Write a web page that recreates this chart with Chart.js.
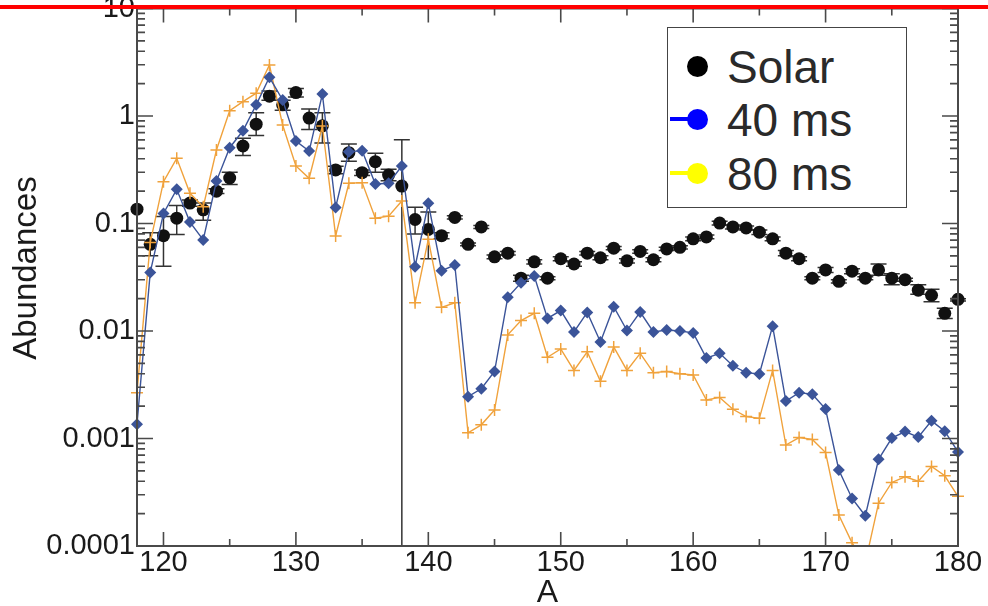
<!DOCTYPE html>
<html>
<head>
<meta charset="utf-8">
<script src="https://cdn.jsdelivr.net/npm/chart.js@4.4.1/dist/chart.umd.min.js"></script>
<style>
html,body{margin:0;padding:0;background:#ffffff;}
#wrap{position:relative;width:988px;height:606px;overflow:hidden;background:#fff;}
#chart{position:absolute;left:0;top:0;}
#redline{position:absolute;left:0;top:5px;width:988px;height:4px;background:#ff0000;}
#legend{position:absolute;left:667px;top:27px;width:238px;height:179px;border:1.5px solid #444;background:#fff;font-family:"Liberation Sans",Arial,sans-serif;color:#2a2a2a;}
.row{position:absolute;left:0;width:238px;height:50px;}
.dot{position:absolute;width:21px;height:21px;border-radius:50%;left:19px;top:14px;}
.ln{position:absolute;left:2px;width:26px;height:4px;top:22px;}
.lab{position:absolute;left:59px;top:0;font-size:46px;line-height:50px;white-space:nowrap;}
</style>
</head>
<body>
<div id="wrap">
<canvas id="chart" width="988" height="606"></canvas>
<div id="legend">
  <div class="row" style="top:14px"><div class="dot" style="background:#000"></div><div class="lab">Solar</div></div>
  <div class="row" style="top:67px"><div class="ln" style="background:#0000ff"></div><div class="dot" style="background:#0000ff"></div><div class="lab">40 ms</div></div>
  <div class="row" style="top:121px"><div class="ln" style="background:#ffff00"></div><div class="dot" style="background:#ffff00"></div><div class="lab">80 ms</div></div>
</div>
<div id="redline"></div>
</div>
<script>
// ---- data ----
const massNumbers = [118,119,120,121,122,123,124,125,126,127,128,129,130,131,132,133,134,135,136,137,138,139,140,141,142,143,144,145,146,147,148,149,150,151,152,153,154,155,156,157,158,159,160,161,162,163,164,165,166,167,168,169,170,171,172,173,174,175,176,177,178,179,180];

const solar = [0.136,0.064,0.077,0.112,0.155,0.134,0.200,0.265,0.526,0.84,1.53,1.27,1.65,0.957,0.81,0.315,0.456,0.297,0.376,0.282,0.223,0.109,0.088,0.077,0.114,0.064,0.093,0.049,0.053,0.031,0.044,0.031,0.047,0.042,0.053,0.048,0.059,0.045,0.055,0.046,0.058,0.060,0.072,0.075,0.101,0.093,0.091,0.083,0.072,0.053,0.047,0.031,0.037,0.029,0.036,0.031,0.037,0.031,0.030,0.024,0.0215,0.0146,0.0197];

const solarLow = [null,0.050,0.040,0.079,0.145,0.107,0.19,0.23,0.43,0.66,1.40,1.13,1.50,0.75,0.56,0.29,0.38,0.28,0.30,0.25,0.00001,0.080,0.047,0.072,0.110,0.062,0.090,0.047,0.051,0.029,0.042,0.030,0.045,0.040,0.051,0.046,0.057,0.043,0.053,0.044,0.056,0.058,0.069,0.072,0.097,0.089,0.087,0.079,0.069,0.050,0.045,0.030,0.035,0.028,0.034,0.030,0.033,0.027,0.029,0.022,0.0187,0.0131,0.019];

const solarHigh = [null,0.082,0.116,0.147,0.165,0.155,0.21,0.30,0.62,1.07,1.71,1.40,1.80,1.16,1.07,0.34,0.55,0.315,0.45,0.32,0.60,0.142,0.128,0.082,0.118,0.066,0.096,0.051,0.055,0.033,0.046,0.032,0.049,0.044,0.055,0.050,0.061,0.047,0.057,0.048,0.060,0.062,0.075,0.078,0.105,0.097,0.095,0.087,0.075,0.056,0.049,0.032,0.039,0.030,0.038,0.032,0.042,0.034,0.031,0.027,0.0244,0.0163,0.020];

const ms40 = [0.00136,0.0351,0.124,0.208,0.103,0.0703,0.248,0.507,0.729,1.27,2.29,1.41,0.585,0.472,1.60,0.141,0.466,0.475,0.233,0.237,0.343,0.0396,0.154,0.0364,0.0411,0.00245,0.0029,0.0042,0.0206,0.0281,0.0325,0.0131,0.0155,0.0098,0.0149,0.0079,0.0168,0.0101,0.0150,0.0098,0.0102,0.0100,0.0096,0.0056,0.0062,0.00475,0.0041,0.00398,0.0111,0.00223,0.00267,0.00258,0.00188,0.00051,0.000277,0.000191,0.00064,0.00101,0.00116,0.00103,0.00146,0.00117,0.00075];

const ms80 = [0.00267,0.0664,0.245,0.404,0.191,0.143,0.483,1.12,1.36,1.63,2.98,0.824,0.343,0.263,0.807,0.0766,0.237,0.240,0.112,0.117,0.162,0.0183,0.0713,0.0166,0.0183,0.00113,0.00134,0.00184,0.0092,0.0125,0.0146,0.0057,0.0068,0.0043,0.0064,0.0034,0.0071,0.0043,0.0062,0.0041,0.0042,0.0040,0.0039,0.00228,0.00241,0.00187,0.0016,0.00154,0.0043,0.00087,0.00102,0.00098,0.00074,0.000194,0.000107,0.00007,0.00025,0.00039,0.00044,0.00040,0.00055,0.00045,0.00029];

const xTickValues = [120,130,140,150,160,170,180];
const xMinorTicks = [125,135,145,155,165,175];
const yTickValues = [0.0001,0.001,0.01,0.1,1,10];
const yTickLabels = ["0.0001","0.001","0.01","0.1","1","10"];

// ---- chart ----
const FONT = '"Liberation Sans", Arial, sans-serif';
const toXY = (vals) => massNumbers.map((a, i) => ({x: a, y: vals[i]}));

const errorBars = {
  id: 'errorBars',
  beforeDatasetsDraw(chart) {
    const {ctx, chartArea: a, scales: {x, y}} = chart;
    ctx.save();
    ctx.beginPath();
    ctx.rect(a.left - 12, a.top, a.right - a.left + 24, a.bottom - a.top);
    ctx.clip();
    ctx.strokeStyle = '#333';
    ctx.lineWidth = 1.5;
    massNumbers.forEach((m, i) => {
      if (solarLow[i] == null) return;
      const px = x.getPixelForValue(m);
      const pLo = y.getPixelForValue(solarLow[i]);
      const pHi = y.getPixelForValue(solarHigh[i]);
      ctx.beginPath();
      ctx.moveTo(px, pLo); ctx.lineTo(px, pHi);
      ctx.moveTo(px - 8, pLo); ctx.lineTo(px + 8, pLo);
      ctx.moveTo(px - 8, pHi); ctx.lineTo(px + 8, pHi);
      ctx.stroke();
    });
    ctx.restore();
  }
};

const frameTicks = {
  id: 'frameTicks',
  afterDraw(chart) {
    const {ctx, chartArea: a, scales: {x, y}} = chart;
    ctx.save();
    ctx.strokeStyle = '#4a4a4a';
    ctx.lineWidth = 2;
    ctx.strokeRect(a.left, a.top, a.right - a.left, a.bottom - a.top);
    ctx.lineWidth = 1.6;
    ctx.beginPath();
    const xt = (v, len) => {
      const p = x.getPixelForValue(v);
      ctx.moveTo(p, a.bottom); ctx.lineTo(p, a.bottom - len);
      ctx.moveTo(p, a.top); ctx.lineTo(p, a.top + len);
    };
    xTickValues.forEach(v => xt(v, 14));
    xMinorTicks.forEach(v => xt(v, 7));
    const yt = (v, len) => {
      const p = y.getPixelForValue(v);
      ctx.moveTo(a.left, p); ctx.lineTo(a.left + len, p);
      ctx.moveTo(a.right, p); ctx.lineTo(a.right - len, p);
    };
    yTickValues.forEach(v => yt(v, 16));
    yTickValues.slice(0, -1).forEach(d => {
      for (let m = 2; m <= 9; m++) yt(d * m, 8);
    });
    ctx.stroke();
    ctx.restore();
  }
};

new Chart(document.getElementById('chart'), {
  type: 'line',
  data: {
    datasets: [
      {
        label: 'Solar', data: toXY(solar), showLine: false,
        pointStyle: 'circle', pointRadius: 6.5, pointBackgroundColor: '#111',
        pointBorderColor: '#111', pointBorderWidth: 0, order: 3,
        clip: {left: 12, right: 12, top: 0, bottom: 0}
      },
      {
        label: '80 ms', data: toXY(ms80), borderColor: '#f0a23c', borderWidth: 1.4,
        pointStyle: 'cross', pointRadius: 6, pointBorderColor: '#f0a23c',
        pointBorderWidth: 1.5, pointBackgroundColor: '#f0a23c', order: 2,
        clip: {left: 12, right: 12, top: 0, bottom: 0}
      },
      {
        label: '40 ms', data: toXY(ms40), borderColor: '#3b5499', borderWidth: 1.4,
        pointStyle: 'rectRot', pointRadius: 6, pointBackgroundColor: '#3b5499',
        pointBorderColor: '#3b5499', pointBorderWidth: 0, order: 1,
        clip: {left: 12, right: 12, top: 0, bottom: 0}
      }
    ]
  },
  options: {
    responsive: false,
    animation: false,
    layout: {padding: {top: 8.5, right: 30, left: 0, bottom: 0}},
    plugins: {legend: {display: false}, tooltip: {enabled: false}},
    scales: {
      x: {
        type: 'linear', min: 118, max: 180,
        grid: {display: false, drawTicks: false}, border: {display: false},
        afterBuildTicks: s => { s.ticks = xTickValues.map(v => ({value: v})); },
        afterFit: s => { s.height = 60; s.paddingLeft = 0; s.paddingRight = 0; },
        ticks: {color: '#1a1a1a', font: {family: FONT, size: 29}, padding: 0, maxRotation: 0,
                callback: v => String(v)},
        title: {display: true, text: 'A', color: '#1a1a1a',
                font: {family: FONT, size: 32, lineHeight: 0.8}, padding: {top: 0, bottom: 0}}
      },
      y: {
        type: 'logarithmic', min: 0.0001, max: 10,
        grid: {display: false, drawTicks: false}, border: {display: false},
        afterBuildTicks: s => { s.ticks = yTickValues.map(v => ({value: v})); },
        afterFit: s => { s.width = 137; s.paddingTop = 0; s.paddingBottom = 0; },
        ticks: {color: '#1a1a1a', font: {family: FONT, size: 29}, padding: 2,
                callback: (v) => { const i = yTickValues.indexOf(v); return i >= 0 ? yTickLabels[i] : ''; }},
        title: {display: true, text: '  Abundances', color: '#1a1a1a',
                font: {family: FONT, size: 33, lineHeight: 1.2}, padding: {top: 7, bottom: 0}}
      }
    }
  },
  plugins: [errorBars, frameTicks]
});
</script>
</body>
</html>
